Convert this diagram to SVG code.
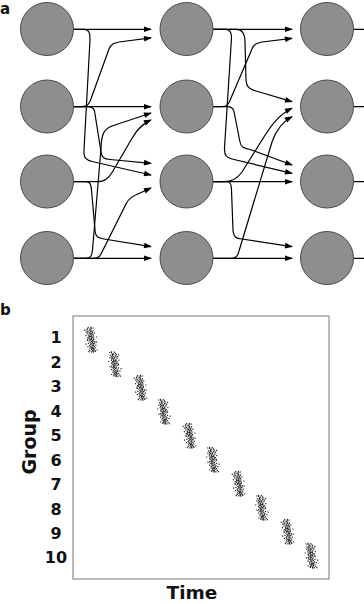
<svg xmlns="http://www.w3.org/2000/svg" width="364" height="604" viewBox="0 0 364 604">
<style>
.node{fill:#8e8e8e;stroke:#4a4a4a;stroke-width:1}
.edge{fill:none;stroke:#000;stroke-width:1.2;marker-end:url(#ah)}
.stub{fill:none;stroke:#000;stroke-width:1.2}
.lbl{font-family:"DejaVu Sans",sans-serif;font-weight:bold;fill:#111}
.tick{font-family:"DejaVu Sans",sans-serif;font-weight:bold;font-size:16px;fill:#111;text-anchor:middle}
.dots{fill:none;stroke:#2a2a2a;stroke-width:1.2}
</style>
<defs>
<marker id="ah" markerUnits="userSpaceOnUse" viewBox="-8 -4 10 8" markerWidth="10" markerHeight="8" refX="0" refY="0" orient="auto">
<path d="M1,0 L-7,-2.8 L-7,2.8 Z" fill="#000"/>
</marker>
<path id="cl" class="dots" d="M-1.2 -12.3h1.2M1.8 -11.6h1.2M0.3 -10.9h1.2M-2.7 -10.2h1.2M1.1 -9.8h1.2M3.2 -9.1h1.2M-1.9 -8.7h1.2M0.4 -8.2h1.2M-3.8 -7.9h1.2M2.3 -7.6h1.2M-0.8 -7.1h1.2M1.5 -6.6h1.2M4.1 -6.9h1.2M-2.9 -6.1h1.2M0.1 -5.8h1.2M2.6 -5.4h1.2M-1.6 -5h1.2M0.9 -4.7h1.2M-4.6 -4.4h1.2M3.1 -4h1.2M-0.3 -3.7h1.2M-1.4 -3.2h1.2M1.9 -2.9h1.2M-2.8 -2.5h1.2M0.7 -2.1h1.2M-1.8 -1.6h1.2M0 -1.2h1.2M2.9 -0.9h1.2M-0.9 -0.5h1.2M2.1 -0.1h1.2M-3.6 0.3h1.2M1.2 0.6h1.2M-2 1h1.2M0.3 1.4h1.2M3.4 1.7h1.2M5.2 2.1h1.2M-1.1 2.5h1.2M1 2.9h1.2M-3.1 3.3h1.2M2.2 3.6h1.2M0.1 4h1.2M-1.3 4.5h1.2M1.4 4.9h1.2M4 5.2h1.2M-2.2 5.6h1.2M-0.2 6h1.2M2.4 6.3h1.2M-4.1 6.7h1.2M1 7.1h1.2M-1 7.5h1.2M3 7.9h1.2M0.2 8.3h1.2M-2.4 8.8h1.2M1.8 9.2h1.2M-0.8 9.6h1.2M0.9 10.1h1.2M-2.9 10.5h1.2M0 10.9h1.2M2.7 11.3h1.2M-1.4 11.8h1.2M0.6 12.2h1.2M5.8 -3h1.2M-5.6 4.2h1.2M4.6 10h1.2M-5 -9.6h1.2M3.6 -12h1.2M-3.9 11.6h1.2M1.6 -12.6h1.2M-0.4 -6.4h1.2M2.8 -2h1.2M-2.4 -8h1.2M0.6 -3.4h1.2M-1 0.2h1.2M1.6 1.9h1.2M-0.6 3.1h1.2M0.8 5.5h1.2M-1.7 6.8h1.2M1.2 8.6h1.2M-0.3 -10h1.2M0.5 -0.6h1.2M-1.5 -4h1.2M2 -6h1.2M-0.7 9h1.2M3.3 3h1.2M-3.3 -0.8h1.2M0.4 11.5h1.2M1.3 -8.9h1.2M-2.2 -11.2h1.2M2.4 10.6h1.2M-0.1 7.8h1.2"/>
</defs>
<rect width="364" height="604" fill="#fff"/>

<text class="lbl" x="0" y="13.5" font-size="15">a</text>
<text class="lbl" x="0" y="315" font-size="15">b</text>

<g id="connectors">
<path class="edge" d="M73,29.3 H151"/>
<path class="edge" d="M73,29.3 L84,29.3 C89,29.3 90,33 90,40 L84,150 C83.5,158 86,160 92,161.5 L151,175"/>
<path class="edge" d="M73,106.7 L82,106.7 C88,106.7 90,103 92,96 L109,49 C111,44 114,43 119,42 L151,37.8"/>
<path class="edge" d="M73,106.7 H151"/>
<path class="edge" d="M73,106.7 L88,106.7 C93,106.7 95,109 95,114 L101,152 C102,158 104,159 110,159.5 L151,163.3"/>
<path class="edge" d="M73,181.7 L97,181.7 C105,181.7 109,178 113,171 L131,140 C135,133 140,125 151,120"/>
<path class="edge" d="M73,181.7 L86,181.7 C90,181.7 91,184 91.5,190 L95,230 C95.5,237 98,238 104,239 L151,246.7"/>
<path class="edge" d="M73,258.3 L86,258.3 C91,258.3 92,255 92.5,250 L101,148 C101.5,134 104,129 112,126 L151,113"/>
<path class="edge" d="M73,258.3 L94,258.3 C99,258.3 100,256 102,252 L126,204 C129,198 133,196 140,193 L151,188"/>
<path class="edge" d="M73,258.3 H151"/>

<path class="edge" d="M213,29.3 H292"/>
<path class="edge" d="M213,29.3 L236,29.3 C242,29.3 245,33 245,42 L246,80 C246.5,87 249,89 256,91 L292,101.7"/>
<path class="edge" d="M213,29.3 L226,29.3 C230,29.3 231.5,32 231.5,38 L224.5,148 C224,156 227,158 234,159.5 L292,173.3"/>
<path class="edge" d="M213,106.7 L222,106.7 C227,106.7 229,104 231,98 L252,49 C254,44 257,43 262,42 L292,38.3"/>
<path class="edge" d="M213,106.7 L228,106.7 C232,106.7 234,109 234.5,114 L240,142 C241,147 243,148 250,149.5 L292,165"/>
<path class="edge" d="M213,181.7 L224,181.7 C232,181.7 237,179 242,172 L262,140 C270,127 278,115 292,108.3"/>
<path class="edge" d="M213,181.7 H292"/>
<path class="edge" d="M213,181.7 L227,181.7 C230.5,181.7 231.5,184 231.5,190 L233,230 C233.5,237 236,238.5 242,239 L292,246.7"/>
<path class="edge" d="M213,258.3 L232,258.3 C236,258.3 238,256 239,251 L272,142 C276,130 282,122 292,116.7"/>
<path class="edge" d="M213,258.3 H292"/>

<path class="stub" d="M353.5,29.3 H364 M353.5,106.7 H364 M353.5,181.7 H364 M353.5,258.3 H364"/>
</g>

<g id="n1-1"><circle class="node" cx="47" cy="29" r="26.5"/></g>
<g id="n1-2"><circle class="node" cx="47" cy="106.5" r="26.5"/></g>
<g id="n1-3"><circle class="node" cx="47" cy="181.5" r="26.5"/></g>
<g id="n1-4"><circle class="node" cx="47" cy="258" r="26.5"/></g>
<g id="n2-1"><circle class="node" cx="186.5" cy="29" r="26.5"/></g>
<g id="n2-2"><circle class="node" cx="186.5" cy="106.5" r="26.5"/></g>
<g id="n2-3"><circle class="node" cx="186.5" cy="181.5" r="26.5"/></g>
<g id="n2-4"><circle class="node" cx="186.5" cy="258" r="26.5"/></g>
<g id="n3-1"><circle class="node" cx="327" cy="29" r="26.5"/></g>
<g id="n3-2"><circle class="node" cx="327" cy="106.5" r="26.5"/></g>
<g id="n3-3"><circle class="node" cx="327" cy="181.5" r="26.5"/></g>
<g id="n3-4"><circle class="node" cx="327" cy="258" r="26.5"/></g>

<g id="raster">
<rect x="73" y="316" width="256" height="263" fill="none" stroke="#777" stroke-width="1"/>
<use href="#cl" transform="translate(90.5,340) skewX(8)"/>
<use href="#cl" transform="translate(115.5,364.5) scale(-1,1) skewX(-8)"/>
<use href="#cl" transform="translate(140,388) skewX(8)"/>
<use href="#cl" transform="translate(164.5,412) scale(-1,1) skewX(-8)"/>
<use href="#cl" transform="translate(189,436) skewX(8)"/>
<use href="#cl" transform="translate(213.5,460) scale(-1,1) skewX(-8)"/>
<use href="#cl" transform="translate(238,484) skewX(8)"/>
<use href="#cl" transform="translate(262.5,508) scale(-1,1) skewX(-8)"/>
<use href="#cl" transform="translate(287,532) skewX(8)"/>
<use href="#cl" transform="translate(312,556) scale(-1,1) skewX(-8)"/>
<text class="tick" x="56" y="343.3">1</text>
<text class="tick" x="56" y="367.8">2</text>
<text class="tick" x="56" y="392.2">3</text>
<text class="tick" x="56" y="416.7">4</text>
<text class="tick" x="56" y="441.1">5</text>
<text class="tick" x="56" y="465.6">6</text>
<text class="tick" x="56" y="490">7</text>
<text class="tick" x="56" y="514.5">8</text>
<text class="tick" x="56" y="538.9">9</text>
<text class="tick" x="56" y="563.4">10</text>
<text class="lbl" font-size="19" text-anchor="middle" transform="translate(35.5,442) rotate(-90)">Group</text>
<text class="lbl" font-size="18.5" text-anchor="middle" x="192" y="599">Time</text>
</g>
</svg>
